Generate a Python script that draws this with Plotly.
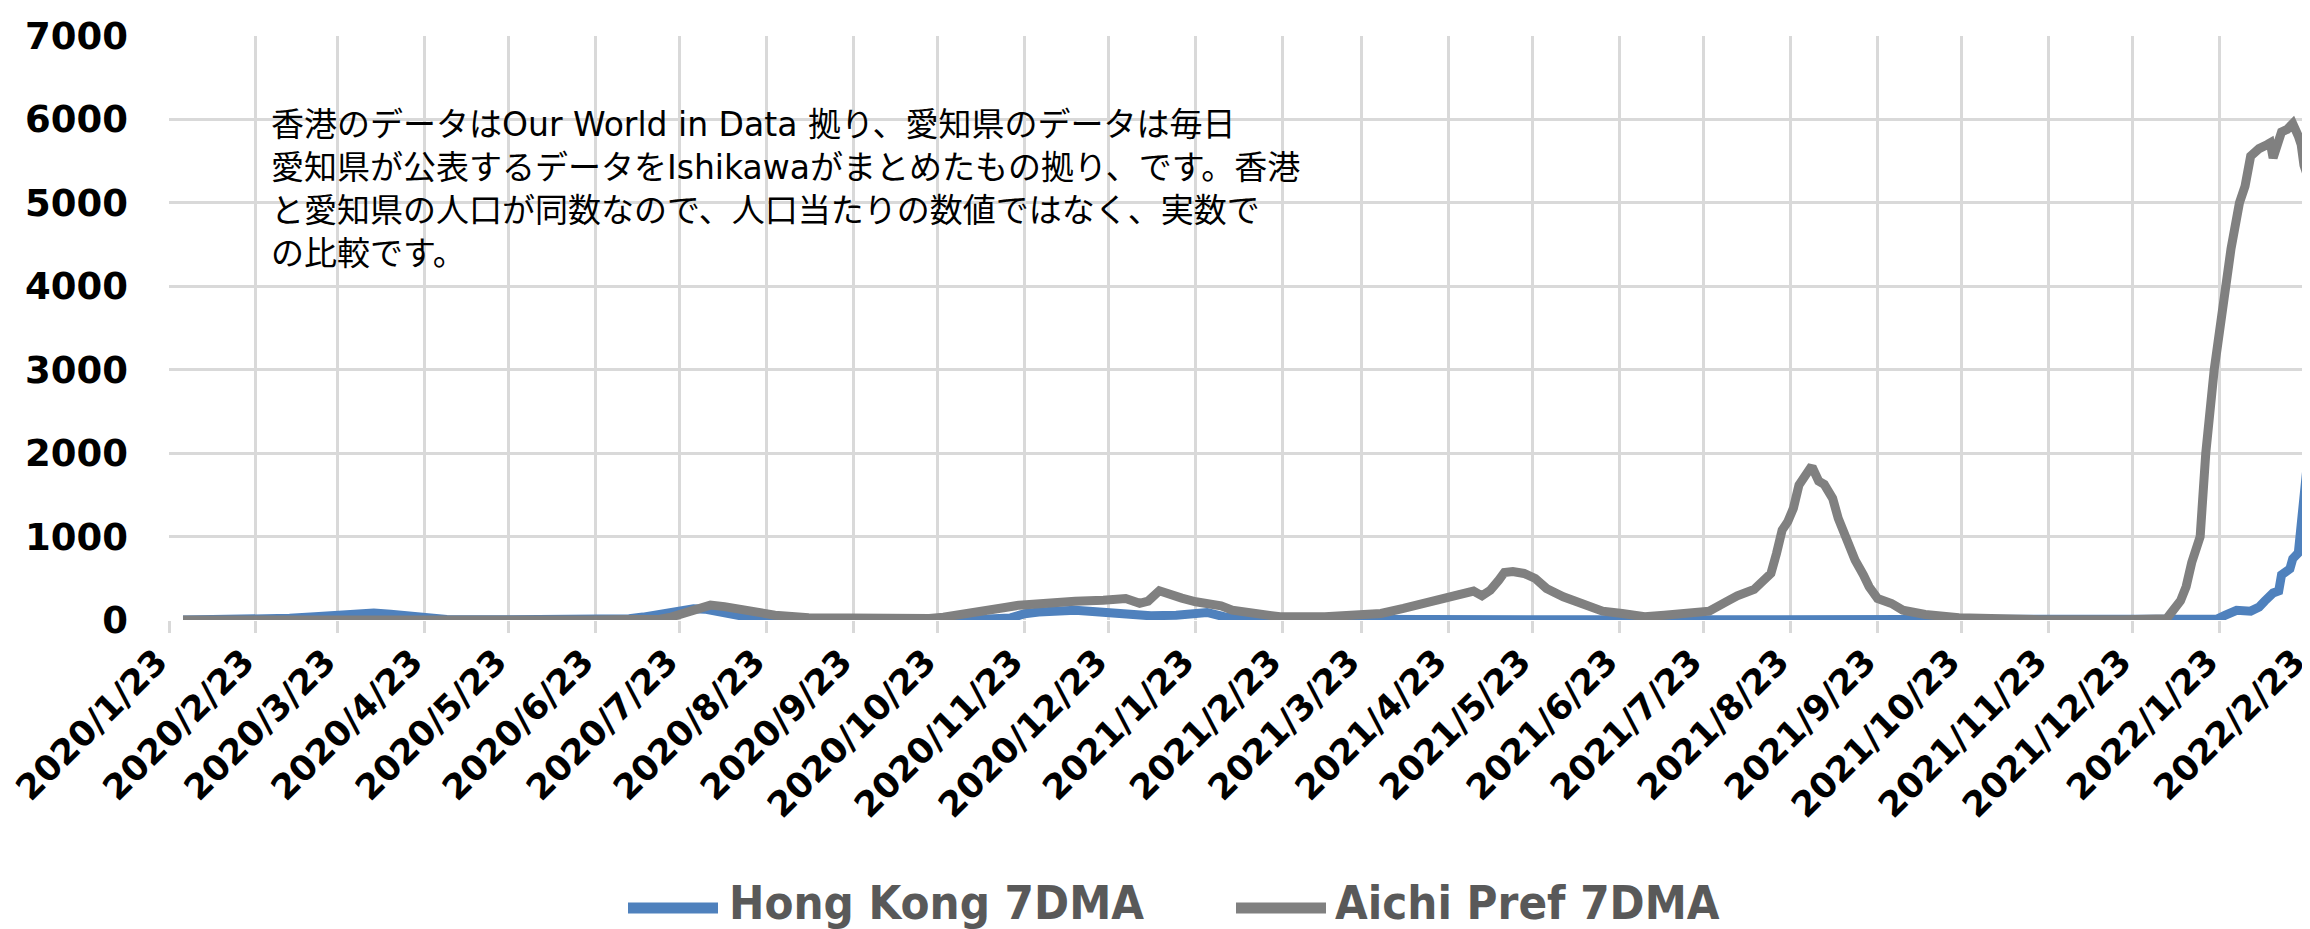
import plotly.graph_objects as go

# ---------------- data ----------------
hk_dates = [
    "2020-01-28", "2020-02-10", "2020-02-25", "2020-03-06", "2020-03-15", "2020-03-23",
    "2020-03-31", "2020-04-05", "2020-04-11", "2020-04-17", "2020-04-23", "2020-05-01",
    "2020-05-20", "2020-06-10", "2020-06-30", "2020-07-05", "2020-07-10", "2020-07-15",
    "2020-07-20", "2020-07-24", "2020-07-28", "2020-08-01", "2020-08-05", "2020-08-10",
    "2020-08-17", "2020-08-26", "2020-09-10", "2020-10-10", "2020-10-25", "2020-11-10",
    "2020-11-18", "2020-11-23", "2020-11-28", "2020-12-02", "2020-12-11", "2020-12-16",
    "2020-12-27", "2021-01-07", "2021-01-16", "2021-01-22", "2021-01-27", "2021-02-02",
    "2021-02-14", "2021-03-10", "2021-04-10", "2021-05-01", "2021-06-01", "2021-08-01",
    "2021-10-01", "2021-12-01", "2022-01-04", "2022-01-22", "2022-01-25", "2022-01-29",
    "2022-02-03", "2022-02-06", "2022-02-08", "2022-02-11", "2022-02-13", "2022-02-14",
    "2022-02-17", "2022-02-18", "2022-02-20", "2022-02-22", "2022-02-23",
]
hk_values = [
    0, 2, 4, 20, 40, 66,
    90, 85, 70, 45, 22, 5,
    2, 3, 8, 15, 35, 60,
    95, 120, 135, 130, 100, 75,
    30, 10, 5, 5, 8, 12,
    25, 75, 95, 106, 118, 106,
    78, 50, 58, 90, 90, 40,
    10, 8, 15, 5, 3, 3,
    3, 5, 10, 12, 58, 116,
    106, 155, 227, 324, 348, 541,
    614, 734, 806, 1370, 1806,
]

aichi_dates = [
    "2020-01-28", "2020-03-01", "2020-03-25", "2020-04-10", "2020-04-20", "2020-05-05",
    "2020-05-20", "2020-06-20", "2020-07-10", "2020-07-16", "2020-07-20", "2020-07-23",
    "2020-07-28", "2020-08-03", "2020-08-08", "2020-08-12", "2020-08-16", "2020-08-26",
    "2020-09-07", "2020-09-25", "2020-10-20", "2020-10-25", "2020-10-30", "2020-11-05",
    "2020-11-11", "2020-11-16", "2020-11-21", "2020-12-02", "2020-12-11", "2020-12-21",
    "2020-12-29", "2021-01-03", "2021-01-06", "2021-01-10", "2021-01-14", "2021-01-18",
    "2021-01-23", "2021-01-27", "2021-02-01", "2021-02-05", "2021-02-12", "2021-02-22",
    "2021-03-10", "2021-03-21", "2021-03-30", "2021-04-07", "2021-04-17", "2021-04-26",
    "2021-05-02", "2021-05-05", "2021-05-08", "2021-05-11", "2021-05-13", "2021-05-16",
    "2021-05-20", "2021-05-24", "2021-05-28", "2021-06-03", "2021-06-10", "2021-06-17",
    "2021-06-24", "2021-07-02", "2021-07-09", "2021-07-19", "2021-07-25", "2021-07-31",
    "2021-08-04", "2021-08-10", "2021-08-13", "2021-08-16", "2021-08-18", "2021-08-20",
    "2021-08-22", "2021-08-24", "2021-08-26", "2021-08-28", "2021-08-30", "2021-08-31",
    "2021-09-02", "2021-09-04", "2021-09-07", "2021-09-09", "2021-09-12", "2021-09-15",
    "2021-09-18", "2021-09-20", "2021-09-23", "2021-09-28", "2021-10-02", "2021-10-10",
    "2021-10-22", "2021-11-02", "2021-11-20", "2021-12-20", "2022-01-01", "2022-01-04",
    "2022-01-06", "2022-01-09", "2022-01-11", "2022-01-13", "2022-01-16", "2022-01-18",
    "2022-01-21", "2022-01-25", "2022-01-27", "2022-01-30", "2022-02-01", "2022-02-03",
    "2022-02-06", "2022-02-09", "2022-02-10", "2022-02-11", "2022-02-13", "2022-02-14",
    "2022-02-16", "2022-02-18", "2022-02-20", "2022-02-21", "2022-02-22", "2022-02-23",
]
aichi_values = [
    0, 3, 8, 20, 25, 8,
    1, 1, 3, 10, 35, 66,
    125, 178, 160, 138, 90, 58,
    28, 18, 18, 34, 66, 90,
    130, 150, 178, 210, 226, 238,
    258, 200, 226, 350, 298, 262,
    218, 198, 170, 118, 78, 38,
    38, 46, 78, 138, 218, 278,
    346, 290, 358, 478, 570, 580,
    558, 498, 378, 278, 198, 106,
    78, 40, 58, 78, 106, 218,
    290, 366, 466, 558, 798, 1078,
    1178, 1338, 1618, 1738, 1818, 1810,
    1666, 1626, 1458, 1218, 938, 718,
    538, 398, 258, 198, 118, 66,
    26, 10, 3, 3, 8, 15,
    100, 230, 400, 690, 1000, 2000,
    3000, 4000, 4450, 5000, 5200, 5560,
    5650, 5700, 5720, 5540, 5720, 5850,
    5880, 5950, 5800, 5700, 5450, 5350,
]

series_names = ["Hong Kong 7DMA", "Aichi Pref 7DMA"]
y_tick_values = [0, 1000, 2000, 3000, 4000, 5000, 6000, 7000]
LATIN = '<span style="font-family:DejaVu Sans">{}</span>'
note_lines = [
    "香港のデータは" + LATIN.format("Our World in Data ") + "拠り、愛知県のデータは毎日",
    "愛知県が公表するデータを" + LATIN.format("Ishikawa") + "がまとめたもの拠り、です。香港",
    "と愛知県の人口が同数なので、人口当たりの数値ではなく、実数で",
    "の比較です。",
]

# ---------------- styling ----------------
W, H = 2310, 929
ML, MR, MT, MB = 161, 11, 28, 317
BLUE = "#4F81BD"
GRAY = "#808080"
GRID = "#D9D9D9"
Y_TICK_FONT = dict(family="DejaVu Sans, Verdana, sans-serif", size=37, color="black", weight="bold")
X_TICK_FONT = dict(family="DejaVu Sans, Verdana, sans-serif", size=35, color="black", weight="bold")

fig = go.Figure()
fig.add_trace(go.Scatter(x=hk_dates, y=hk_values, mode="lines", name=series_names[0],
                         line=dict(color=BLUE, width=9), showlegend=False))
fig.add_trace(go.Scatter(x=aichi_dates, y=aichi_values, mode="lines", name=series_names[1],
                         line=dict(color=GRAY, width=9), showlegend=False))

fig.update_layout(
    width=W, height=H,
    margin=dict(l=ML, r=MR, t=MT, b=MB, pad=0),
    plot_bgcolor="white", paper_bgcolor="white",
    showlegend=False,
)
fig.update_xaxes(
    type="date", range=["2020-01-23", "2022-02-23 02:00"], automargin=False,
    tick0="2020-01-23", dtick="M1", tickformat="%Y/%-m/%-d", tickangle=-45,
    showgrid=True, gridcolor=GRID, gridwidth=3,
    ticks="outside", ticklen=12, tickwidth=3, tickcolor=GRID,
    tickfont=X_TICK_FONT, showline=False, zeroline=False,
    ticklabelshift=-12, ticklabelstandoff=-6, ticklabeloverflow="allow",
)
fig.update_yaxes(
    range=[0, 7000], tickvals=y_tick_values, ticktext=[str(v) for v in y_tick_values],
    automargin=False,
    showgrid=True, gridcolor=GRID, gridwidth=3, zeroline=False, showline=False,
    ticks="", tickfont=Y_TICK_FONT, ticklabelstandoff=40,
)

# note text
fig.add_annotation(
    xref="paper", yref="paper", x=0.0468, y=0.742, xanchor="left", yanchor="middle",
    text="<br>".join(note_lines), showarrow=False, align="left",
    font=dict(family="Noto Sans CJK JP", size=33, color="black"),
)

# custom legend
plot_w = W - ML - MR
plot_h = H - MT - MB
def px_to_paper_x(px):
    return (px - ML) / plot_w
def px_to_paper_y(py):
    return (H - MB - py) / plot_h

leg_y = px_to_paper_y(894)
legend_items = [(BLUE, 620, 710, 719), (GRAY, 1228, 1318, 1325)]
for (col, x0, x1, xt), name in zip(legend_items, series_names):
    fig.add_shape(type="line", xref="paper", yref="paper",
                  x0=px_to_paper_x(x0), x1=px_to_paper_x(x1), y0=px_to_paper_y(900), y1=px_to_paper_y(900),
                  line=dict(color=col, width=11))
    fig.add_annotation(xref="paper", yref="paper", x=px_to_paper_x(xt), y=leg_y,
                       xanchor="left", yanchor="middle", text=name, showarrow=False,
                       font=dict(family="DejaVu Sans Condensed, DejaVu Sans, sans-serif",
                                 size=47, color="#595959", weight="bold"))

fig.write_html("out.html")
